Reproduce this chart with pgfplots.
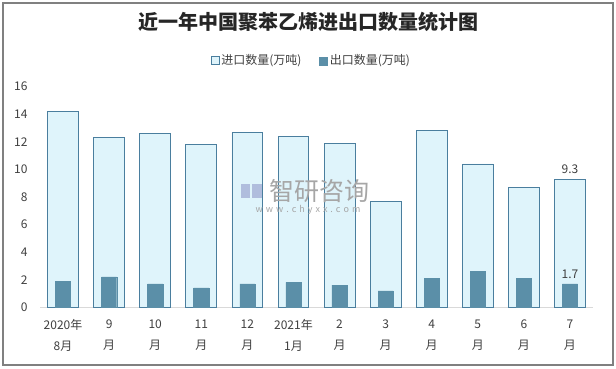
\documentclass[border=0pt]{standalone}
\usepackage{fontspec}
\setmainfont{Noto Sans CJK SC}
\usepackage{pgfplots}
\usepackage{pgfplotstable}
\pgfplotsset{compat=1.18}
\definecolor{impfill}{HTML}{DFF4FB}
\definecolor{impdraw}{HTML}{4A7E9E}
\definecolor{expfill}{HTML}{5B8FA8}
\definecolor{txt}{HTML}{404040}
\pgfplotstableread{
x imp exp
0 14.2 1.9
1 12.3 2.2
2 12.6 1.7
3 11.8 1.4
4 12.7 1.7
5 12.4 1.8
6 11.9 1.6
7 7.7 1.2
8 12.8 2.1
9 10.4 2.6
10 8.7 2.1
11 9.3 1.7
}\datatable
\begin{document}
\begin{tikzpicture}
\useasboundingbox (0pt,0pt) rectangle (616pt,369pt);
\fill[white] (0pt,0pt) rectangle (616pt,369pt);
\draw[color=gray, line width=1.2pt] (3pt,4pt) rectangle (613pt,366pt);
\node[font=\fontsize{20}{24}\selectfont\bfseries, text=black!85] at (308pt,347pt) {近一年中国聚苯乙烯进出口数量统计图};
\begin{axis}[
  at={(40pt,61.7pt)}, anchor=south west, scale only axis,
  width=553pt, height=220.6pt,
  xmin=-0.5, xmax=11.5, ymin=0, ymax=16,
  ytick={0,2,...,16},
  xtick=data,
  xticklabels={{2020年\\8月},{9\\月},{10\\月},{11\\月},{12\\月},{2021年\\1月},{2\\月},{3\\月},{4\\月},{5\\月},{6\\月},{7\\月}},
  /pgf/number format/assume math mode=true,
  axis x line*=bottom, axis y line*=left,
  axis line style={-},
  y axis line style={draw=none},
  x axis line style={draw=black!15, line width=1pt},
  major tick length=0pt,
  tick label style={text=txt, font=\fontsize{12}{21}\selectfont},
  yticklabel style={xshift=-9pt},
  xticklabel style={align=center, anchor=north, yshift=-9pt},
  legend style={at={(0.5,1)}, anchor=south, yshift=16pt, xshift=-5pt, draw=none, fill=none,
    legend columns=2, font=\fontsize{12}{14}\selectfont, text=txt,
    /tikz/every even column/.append style={column sep=16pt}},
  ybar, bar shift=0pt,
  nodes near coords={\ifnum\coordindex=11 \pgfmathprintnumber{\pgfplotspointmeta}\fi},
  nodes near coords style={text=txt, font=\fontsize{12}{14}\selectfont, yshift=2pt},
]
\addplot[fill=impfill, draw=impdraw, line width=0.8pt, bar width=0.67,
  legend image code/.code={\draw[fill=impfill, draw=impdraw, line width=0.8pt] (0pt,-3.6pt) rectangle (7.5pt,3.9pt);}]
  table[x=x, y=imp] {\datatable};
\addlegendentry{进口数量(万吨)}
\addplot[fill=expfill, draw=expfill, bar width=0.33,
  legend image code/.code={\fill[expfill] (0pt,-4pt) rectangle (8pt,4pt);}]
  table[x=x, y=exp] {\datatable};
\addlegendentry{出口数量(万吨)}
\end{axis}
\fill[blue!30!gray, opacity=0.35] (241pt,171pt) rectangle (250pt,185pt);
\fill[blue!30!gray, opacity=0.35] (252pt,171pt) rectangle (262pt,185pt);
\node[text=black!35, font=\fontsize{25}{28}\selectfont, anchor=west] at (266pt,178pt) {智研咨询};
\node[text=black!35, font=\fontsize{9}{10}\selectfont, anchor=center] at (308pt,159pt) {w\,\,w\,\,w\,\,.\,\,c\,\,h\,\,y\,\,x\,\,x\,\,.\,\,c\,\,o\,\,m};
\end{tikzpicture}
\end{document}
